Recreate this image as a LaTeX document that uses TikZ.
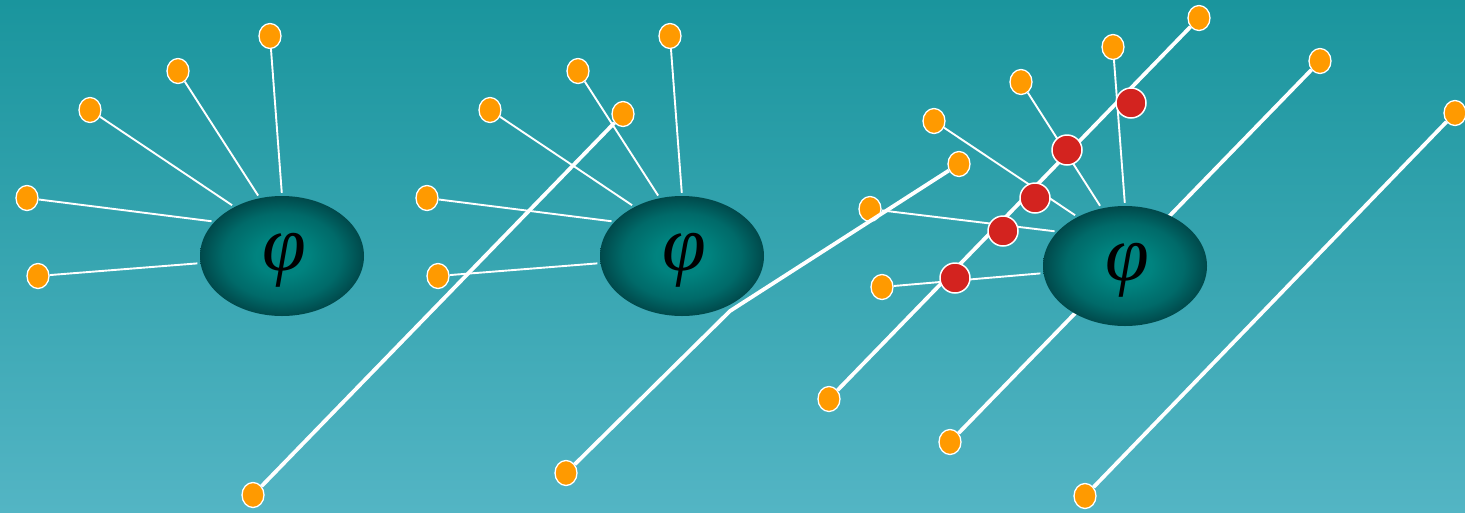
\documentclass[tikz,border=0pt]{standalone}
\usepackage{fontspec}
\newfontfamily\phifont{Liberation Serif}
\usetikzlibrary{shapes.geometric}
\pgfdeclarelayer{bg}
\pgfdeclarelayer{lines}
\pgfsetlayers{bg,lines,main}
\definecolor{bgtop}{HTML}{1A959D}
\definecolor{bgbot}{HTML}{53B5C4}
\definecolor{phic}{HTML}{00837F}
\definecolor{phim}{HTML}{006A69}
\definecolor{phie}{HTML}{00494B}
\definecolor{dotorange}{HTML}{FF9A00}
\definecolor{dotred}{HTML}{D3231F}
\pgfdeclareradialshading{phiball}{\pgfpointorigin}{color(0bp)=(phic); color(8bp)=(phic); color(18bp)=(phim); color(25bp)=(phie); color(50bp)=(phie)}
\newcommand{\bigphi}{\raisebox{-4pt}[\height][\depth]{\hspace{5pt}{\phifont\itshape φ}}}
\tikzset{
  field/.style={ellipse, minimum width=164pt, minimum height=120pt, inner sep=0pt, shading=phiball, font=\fontsize{79}{79}\selectfont},
  leaf/.style={ellipse, minimum width=22pt, minimum height=25pt, inner sep=0pt, fill=dotorange, draw=white, line width=1.3pt},
  hit/.style={circle, minimum size=30pt, inner sep=0pt, fill=dotred, draw=white, line width=1.5pt},
  fine/.style={draw=white, line width=1.9pt, shorten >=3pt},
  track/.style={draw=white, line width=3.8pt},
}
\begin{document}
\begin{tikzpicture}[x=1pt,y=-1pt]
\useasboundingbox (0,0) rectangle (1465,512);
\begin{pgfonlayer}{bg}
  \shade[top color=bgtop, bottom color=bgbot] (0,0) rectangle (1465,512);
  \node[leaf] (c4) at (870,209) {};
\end{pgfonlayer}

% panel 1
\node[field] (e1) at (282,256) {\bigphi};
\node[leaf] (a1) at (270,36) {};
\node[leaf] (a2) at (178,71) {};
\node[leaf] (a3) at (90,110) {};
\node[leaf] (a4) at (27,198) {};
\node[leaf] (a5) at (38,276) {};

% panel 2
\node[field] (e2) at (682,256) {\bigphi};
\node[leaf] (b1) at (670,36) {};
\node[leaf] (b2) at (578,71) {};
\node[leaf] (b3) at (490,110) {};
\node[leaf] (b4) at (427,198) {};
\node[leaf] (b5) at (438,276) {};
\node[leaf] (b6) at (623,114) {};
\node[leaf] (b7) at (253,495) {};
\node[leaf] (b8) at (566,473) {};
\node[leaf] (b9) at (959,164) {};
\coordinate (k2) at (730,311);

% panel 3
\node[field] (e3) at (1125,266) {\bigphi};
\node[leaf] (c1) at (1113,47) {};
\node[leaf] (c2) at (1021,82) {};
\node[leaf] (c3) at (934,121) {};
\node[leaf] (c5) at (882,287) {};
\node[leaf] (c6) at (829,399) {};
\node[leaf] (c7) at (1199,18) {};
\node[leaf] (c8) at (950,442) {};
\node[leaf] (c9) at (1320,61) {};
\node[leaf] (c10) at (1085,496) {};
\node[leaf] (c11) at (1455,113) {};
\node[hit] (r1) at (955,278) {};
\node[hit] (r2) at (1003,231) {};
\node[hit] (r3) at (1035,198) {};
\node[hit] (r4) at (1067,150) {};
\node[hit] (r5) at (1131,103) {};

\begin{pgfonlayer}{lines}
  \draw[fine] (a1) -- (e1.90);
  \draw[fine] (a2) -- (e1.111);
  \draw[fine] (a3) -- (e1.134);
  \draw[fine] (a4) -- (e1.153);
  \draw[fine] (a5) -- (e1.185);
  \draw[fine] (b1) -- (e2.90);
  \draw[fine] (b2) -- (e2.111);
  \draw[fine] (b3) -- (e2.134);
  \draw[fine] (b4) -- (e2.153);
  \draw[fine] (b5) -- (e2.185);
  \draw[fine] (c1) -- (e3.90);
  \draw[fine] (c2) -- (e3.112);
  \draw[fine] (c3) -- (e3.134);
  \draw[fine] (c4) -- (e3.153);
  \draw[fine] (c5) -- (e3.185);
  \draw[track] (b7) -- (b6);
  \draw[track] (b8) -- (k2) -- (b9);
  \draw[track] (c6) -- (c7);
  \draw[track] (c8) -- (c9);
  \draw[track] (c10) -- (c11);
\end{pgfonlayer}
\end{tikzpicture}
\end{document}
